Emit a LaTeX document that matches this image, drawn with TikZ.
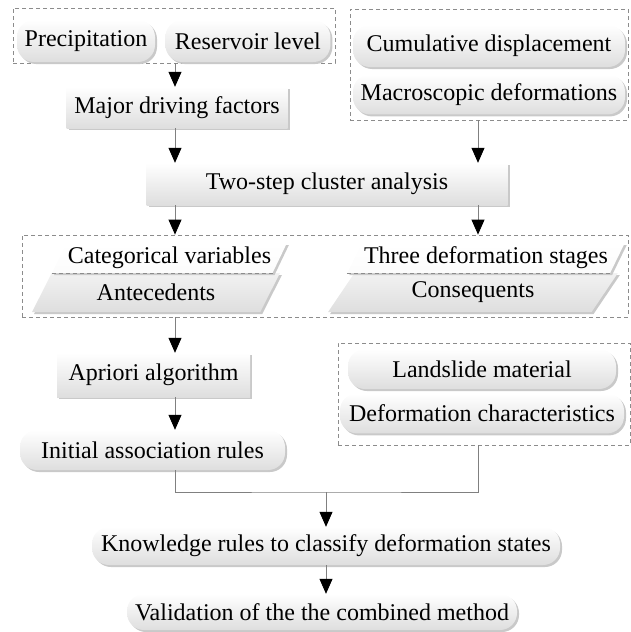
\documentclass[tikz,border=0pt]{standalone}
\usepackage{fontspec}
\setmainfont{Liberation Serif}
\usetikzlibrary{
  arrows.meta,
  shapes.geometric,
  positioning,
  calc,
  shadows
}
\definecolor{lsLine}{HTML}{808080}
\definecolor{lsDash}{HTML}{8C8C8C}
\definecolor{lsShade}{HTML}{DEDEDE}
\definecolor{lsShadow}{HTML}{C9C9C9}
\tikzset{
  lsnode/.style={
    font=\fontsize{24}{28}\selectfont, align=center, inner sep=1pt,
    top color=white, bottom color=lsShade,
    drop shadow={shadow xshift=2pt, shadow yshift=-2pt, fill=lsShadow, opacity=1}
  },
  pill/.style={lsnode, rectangle, rounded corners=17pt, minimum height=40pt},
  stepbox/.style={lsnode, rectangle, minimum height=42pt},
  para/.style={lsnode, trapezium, trapezium left angle=59, trapezium right angle=121,
    trapezium stretches=true},
  paratop/.style={para, top color=white, bottom color=white!90!lsShade, minimum height=30pt},
  parabot/.style={para, top color=white!60!lsShade, bottom color=lsShade, minimum height=39pt},
  zone/.style={draw=lsDash, dash pattern=on 4pt off 3pt, line width=0.8pt},
  sepline/.style={draw=lsDash, dash pattern=on 4pt off 3pt, line width=0.8pt},
  link/.style={draw=lsLine, line width=0.8pt},
  flow/.style={link, -{Triangle[length=15pt, width=13pt, color=black]}}
}

\begin{document}
\begin{tikzpicture}[x=1pt, y=-1pt]
  \useasboundingbox (0,0) rectangle (631,632);
  % columns of the arrows
  \coordinate (colL) at (175,0);
  \coordinate (colR) at (478,0);
  \coordinate (merge) at (326,492);

  % driving factors
  \node[zone, minimum width=322pt, minimum height=55pt] (gtop) at (174,35.5) {};
  \node[pill, minimum width=138pt, minimum height=42pt] (prec) at (86,41) {Precipitation};
  \node[pill, minimum width=165pt, minimum height=42pt, right=10pt of prec] (resv) {Reservoir level};
  \node[stepbox, minimum width=221pt, minimum height=41pt] (major) at (177,107.5) {Major driving factors};

  % deformation
  \node[zone, minimum width=278pt, minimum height=111pt] (gright) at (489,64.5) {};
  \node[pill, minimum width=272pt, minimum height=42pt] (cumd) at (489,46) {Cumulative displacement};
  \node[pill, minimum width=272pt, below=7pt of cumd] (macd) {Macroscopic deformations};

  \node[stepbox, minimum width=361pt] (two) at (327,184) {Two-step cluster analysis};

  % variables and stages
  \node[zone, minimum width=606pt, minimum height=82pt] (gmid) at (325,276) {};
  \node[parabot, minimum width=248pt] (ante) at (156,292.5) {Antecedents};
  \node[paratop, minimum width=235pt] (catv) at (169.5,258) {Categorical variables};
  \node[parabot, minimum width=290pt] (cons) at (473,292.5) {Consequents};
  \node[paratop, minimum width=278pt] (thrd) at (486,258) {Three deformation stages};
  \draw[sepline] (catv.bottom left corner) -- (catv.bottom right corner);
  \draw[sepline] (thrd.bottom left corner) -- (thrd.bottom right corner);

  \node[stepbox, minimum width=193pt, minimum height=44pt] (apri) at (153.5,375) {Apriori algorithm};
  \node[pill, minimum width=265pt] (init) at (152.5,450) {Initial association rules};

  % landslide
  \node[zone, minimum width=292pt, minimum height=102pt] (gland) at (484,394) {};
  \node[pill, minimum width=268pt] (land) at (482,369) {Landslide material};
  \node[pill, minimum width=284pt, below=4pt of land] (defc) {Deformation characteristics};

  \node[pill, minimum width=468pt, minimum height=38pt] (know) at (326,546) {Knowledge rules to classify deformation states};
  \node[pill, minimum width=390pt, minimum height=36pt] (valid) at (322,612) {Validation of the the combined method};

  % connectors
  \draw[flow] (gtop.south -| colL) -- (major.north -| colL);
  \draw[flow] (major.south -| colL) -- (two.north -| colL);
  \draw[flow] (gright.south -| colR) -- (two.north -| colR);
  \draw[flow] (two.south -| colL) -- (gmid.north -| colL);
  \draw[flow] (two.south -| colR) -- (gmid.north -| colR);
  \draw[flow] (gmid.south -| colL) -- (apri.north -| colL);
  \draw[flow] (apri.south -| colL) -- (init.north -| colL);
  \draw[link] (init.south -| colL) |- (merge) -| (gland.south -| colR);
  \draw[flow] (merge) -- (know.north -| merge);
  \draw[flow] (know.south -| merge) -- (valid.north -| merge);
\end{tikzpicture}
\end{document}
